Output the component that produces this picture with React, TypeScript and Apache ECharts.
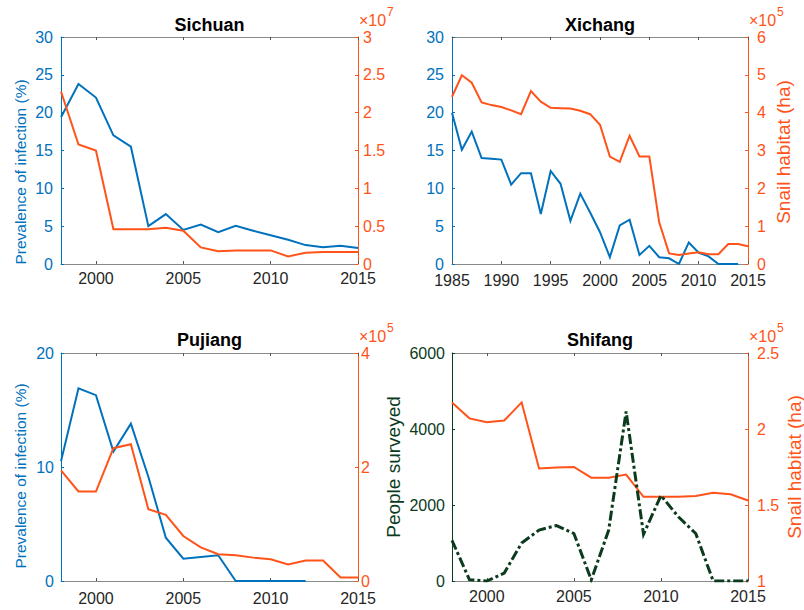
import React, { useEffect, useRef } from "react";
import * as echarts from "echarts";

// ---------- data ----------
const sichuanYears = [1998, 1999, 2000, 2001, 2002, 2003, 2004, 2005, 2006, 2007, 2008, 2009, 2010, 2011, 2012, 2013, 2014, 2015];
const sichuanPrevalence = [19.4, 23.8, 22.0, 17.0, 15.5, 5.0, 6.6, 4.5, 5.2, 4.2, 5.05, 4.4, 3.8, 3.2, 2.5, 2.2, 2.4, 2.1];
const sichuanSnail = [22800000, 15800000, 15000000, 4600000, 4600000, 4600000, 4800000, 4400000, 2200000, 1700000, 1800000, 1800000, 1800000, 1000000, 1500000, 1600000, 1600000, 1600000];

const xichangYears = [1985, 1986, 1987, 1988, 1989, 1990, 1991, 1992, 1993, 1994, 1995, 1996, 1997, 1998, 1999, 2000, 2001, 2002, 2003, 2004, 2005, 2006, 2007, 2008, 2009, 2010, 2011, 2012, 2013, 2014, 2015];
const xichangPrevalence = [20.0, 15.1, 17.5, 14.0, 13.9, 13.8, 10.5, 12.0, 12.0, 6.6, 12.3, 10.6, 5.7, 9.3, 6.8, 4.2, 0.9, 5.1, 5.85, 1.2, 2.4, 0.9, 0.75, 0, 2.85, 1.5, 1.0, 0, 0, 0];
const xichangSnail = [442000, 499000, 479000, 427000, 420000, 415000, 406000, 396000, 457000, 429000, 413000, 412000, 411000, 405000, 396000, 368000, 284000, 270000, 339000, 284000, 284000, 110000, 28000, 24000, 28000, 31000, 26000, 26000, 53000, 53000, 47000];

const pujiangYears = [1998, 1999, 2000, 2001, 2002, 2003, 2004, 2005, 2006, 2007, 2008, 2009, 2010, 2011, 2012, 2013, 2014, 2015];
const pujiangPrevalence = [10.5, 16.9, 16.3, 11.35, 13.8, 9.15, 3.8, 1.96, 2.1, 2.26, 0, 0, 0, 0, 0];
const pujiangSnail = [194000, 157000, 157000, 233000, 240000, 126000, 116000, 79000, 59000, 47000, 45000, 41000, 38000, 29000, 36000, 36000, 6000, 6000];

const shifangYears = [1998, 1999, 2000, 2001, 2002, 2003, 2004, 2005, 2006, 2007, 2008, 2009, 2010, 2011, 2012, 2013, 2014, 2015];
const shifangSurveyed = [1070, 35, 0, 210, 1000, 1340, 1460, 1250, 30, 1340, 4460, 1230, 2250, 1690, 1250, 0, 0, 0];
const shifangSnail = [217500, 207000, 204500, 205600, 217500, 174000, 174600, 175000, 168000, 168000, 170000, 155400, 155400, 155400, 156000, 158000, 157000, 153000];

const ticks1998 = [2000, 2005, 2010, 2015];
const ticks1985 = [1985, 1990, 1995, 2000, 2005, 2010, 2015];

// ---------- style ----------
const FONT = '"Liberation Sans", Arial, Helvetica, sans-serif';
const BLUE = "#0072BD";
const ORANGE = "#FF5319";
const GREEN = "#0B3B1C";
const AXIS_GREY = "#8a8a8a";
const LABEL_DARK = "#262626";
const TICK_FS = 16;

const pairs = (xs: number[], ys: number[]) => ys.map((v, i) => [xs[i], v]);

function xPair(gridIndex: number, min: number, max: number, ticks: number[], margin: number) {
  const common = {
    type: "value",
    gridIndex,
    min,
    max,
    splitLine: { show: false },
    axisLine: { show: true, onZero: false, lineStyle: { color: AXIS_GREY, width: 1 } },
    axisTick: { show: true, inside: true, length: 3, customValues: ticks, lineStyle: { color: "#555" } },
  };
  return [
    {
      ...common,
      position: "bottom",
      axisLabel: {
        show: true,
        customValues: ticks,
        color: LABEL_DARK,
        fontSize: TICK_FS,
        fontFamily: FONT,
        margin,
        formatter: (v: number) => String(v),
      },
    },
    { ...common, position: "top", axisLabel: { show: false } },
  ];
}

function yAxis(
  gridIndex: number,
  position: string,
  min: number,
  max: number,
  interval: number,
  color: string,
  scale: number,
  margin: number
) {
  return {
    type: "value",
    gridIndex,
    position,
    min,
    max,
    interval,
    splitLine: { show: false },
    axisLine: { show: true, onZero: false, lineStyle: { color, width: 1 } },
    axisTick: { show: true, inside: true, length: 3, lineStyle: { color } },
    axisLabel: {
      color,
      fontSize: TICK_FS,
      fontFamily: FONT,
      margin,
      formatter: (v: number) => String(+(v / scale).toFixed(2)),
    },
  };
}

function line(xIdx: number, yIdx: number, data: number[][], color: string, width = 2, dash?: number[]) {
  return {
    type: "line",
    xAxisIndex: xIdx,
    yAxisIndex: yIdx,
    data,
    showSymbol: false,
    symbol: "none",
    itemStyle: { color },
    lineStyle: { color, width, type: dash ? dash : "solid", cap: "butt", join: "miter" },
  };
}

function title(text: string, x: number, y: number) {
  return {
    type: "text",
    x,
    y,
    style: { text, align: "center", verticalAlign: "middle", font: `bold 18px ${FONT}`, fill: "#000" },
  };
}

function vname(text: string, x: number, y: number, color: string, size: number) {
  return {
    type: "text",
    x,
    y,
    rotation: Math.PI / 2,
    style: { text, align: "center", verticalAlign: "middle", font: `${size}px ${FONT}`, fill: color },
  };
}

function expLabel(x: number, y: number, exp: string) {
  return [
    { type: "text", x, y, style: { text: "×10", align: "left", verticalAlign: "middle", font: `16px ${FONT}`, fill: ORANGE } },
    { type: "text", x: x + 28, y: y - 8, style: { text: exp, align: "left", verticalAlign: "middle", font: `12px ${FONT}`, fill: ORANGE } },
  ];
}

export default function App() {
  const ref = useRef<HTMLDivElement>(null);
  useEffect(() => {
    if (!ref.current) return;
    const chart = echarts.init(ref.current, null, { renderer: "svg" });
    const option: any = {
      animation: false,
      backgroundColor: "#fff",
      grid: [
        { left: 61, top: 37, width: 297, height: 227 },
        { left: 452, top: 37, width: 296, height: 227 },
        { left: 61, top: 353, width: 297, height: 228 },
        { left: 452, top: 353, width: 296, height: 228 },
      ],
      xAxis: [
        ...xPair(0, 1998, 2015, ticks1998, 6),
        ...xPair(1, 1985, 2015, ticks1985, 8),
        ...xPair(2, 1998, 2015, ticks1998, 9),
        ...xPair(3, 1998, 2015, ticks1998, 7),
      ],
      yAxis: [
        yAxis(0, "left", 0, 30, 5, BLUE, 1, 8),
        yAxis(0, "right", 0, 30000000, 5000000, ORANGE, 10000000, 5),
        yAxis(1, "left", 0, 30, 5, BLUE, 1, 8),
        yAxis(1, "right", 0, 600000, 100000, ORANGE, 100000, 9),
        yAxis(2, "left", 0, 20, 10, BLUE, 1, 7),
        yAxis(2, "right", 0, 400000, 200000, ORANGE, 100000, 3),
        yAxis(3, "left", 0, 6000, 2000, GREEN, 1, 7),
        yAxis(3, "right", 100000, 250000, 50000, ORANGE, 100000, 9),
      ],
      series: [
        line(0, 0, pairs(sichuanYears, sichuanPrevalence), BLUE),
        line(0, 1, pairs(sichuanYears, sichuanSnail), ORANGE),
        line(2, 2, pairs(xichangYears, xichangPrevalence), BLUE),
        line(2, 3, pairs(xichangYears, xichangSnail), ORANGE),
        line(4, 4, pairs(pujiangYears, pujiangPrevalence), BLUE),
        line(4, 5, pairs(pujiangYears, pujiangSnail), ORANGE),
        line(6, 7, pairs(shifangYears, shifangSnail), ORANGE),
        line(6, 6, pairs(shifangYears, shifangSurveyed), GREEN, 3, [10, 3, 3, 3]),
      ],
      graphic: [
        title("Sichuan", 209.5, 25),
        title("Xichang", 600, 25),
        title("Pujiang", 209.5, 340),
        title("Shifang", 600, 340),
        vname("Prevalence of infection (%)", 20, 172, BLUE, 15.5),
        vname("Prevalence of infection (%)", 20, 476, BLUE, 15.5),
        vname("Snail habitat (ha)", 783, 152, ORANGE, 19),
        vname("People surveyed", 393, 467, GREEN, 19),
        vname("Snail habitat (ha)", 794, 467, ORANGE, 19),
        ...expLabel(359, 20, "7"),
        ...expLabel(749, 20, "5"),
        ...expLabel(359, 336, "5"),
        ...expLabel(749, 336, "5"),
      ],
    };
    chart.setOption(option);
    return () => chart.dispose();
  }, []);
  return (
    <div
      ref={ref}
      style={{ position: "fixed", left: 0, top: 0, width: 804, height: 610, background: "#fff" }}
    />
  );
}
